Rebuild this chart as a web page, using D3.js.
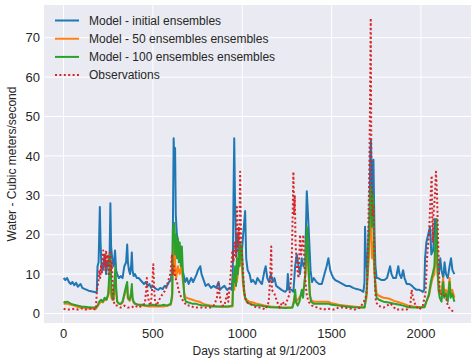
<!DOCTYPE html>
<html>
<head>
<meta charset="utf-8">
<style>
  body { margin: 0; background: white; }
  text { font-family: "Liberation Sans", Arial, sans-serif; fill: #262626; }
  .grid line { stroke: white; stroke-width: 1px; }
  .series { fill: none; stroke-linejoin: round; }
</style>
</head>
<body>
<script src="https://cdn.jsdelivr.net/npm/d3@7"></script>
<script>
// [day, cubic meters/second]
var modelInitial = [[0,9],[10,8.5],[20,9],[30,8],[40,7.5],[50,8],[60,7.2],[70,7.8],[80,6.8],[95,7.5],[105,6.5],[120,6.2],[140,5.8],[160,5.6],[180,5.4],[186,5.5],[190,12],[196,13],[203,27],[207,18],[212,12],[220,11],[230,15],[238,10],[245,13],[252,12],[258,16],[262,28],[266,17],[272,14],[280,12],[288,16],[294,11],[300,10],[310,9],[320,9.5],[330,9],[340,12],[350,13],[356,17.5],[360,13],[366,11],[372,10],[378,12],[382,15.5],[386,11],[392,9.5],[400,10],[410,9],[420,9],[430,8.5],[440,8],[450,7.5],[460,8],[470,7],[480,7.5],[490,6.5],[500,7],[510,6.5],[520,6.2],[530,6],[541,6.5],[555,6.2],[565,7],[578,7],[590,8],[600,8.5],[610,12],[616,44.5],[620,38],[624,42],[628,25],[634,20],[643,18],[650,17],[656,14],[665,11],[671,10],[680,8],[690,9],[700,7.5],[714,9],[725,8],[735,9],[745,10],[752,11],[765,12],[772,10],[780,9],[795,7],[810,7.5],[825,6.5],[840,7],[855,6.5],[867,8],[875,6],[885,6.5],[900,7],[915,6],[930,6.5],[940,6],[947,10],[951,30],[955,44.5],[959,30],[966,15],[975,20],[985,15],[995,14],[1005,20],[1016,26],[1022,14],[1030,11],[1041,10],[1050,8],[1060,8.5],[1075,7.5],[1085,9],[1100,8],[1110,7.5],[1125,11],[1131,12],[1140,9],[1150,8],[1160,10],[1170,8],[1180,9],[1190,7],[1205,6.5],[1220,6],[1240,5.5],[1250,6],[1255,10],[1262,6],[1275,6],[1286,5.5],[1296,12],[1305,15],[1315,12],[1323,10],[1333,14],[1342,12],[1352,13],[1361,31],[1368,25],[1375,18],[1382,11],[1390,8],[1400,9],[1415,8],[1430,7.5],[1445,7.5],[1460,10],[1472,12],[1482,14],[1492,11],[1500,10],[1510,9],[1520,8.5],[1540,8],[1560,7.5],[1580,7],[1600,7],[1620,6.5],[1640,6.2],[1660,6],[1678,5.5],[1684,8],[1687,22],[1692,14],[1700,10],[1706,20],[1712,24],[1716,40],[1720,44],[1726,30],[1734,39],[1740,20],[1745,12],[1752,9],[1760,9],[1780,8.5],[1795,8.5],[1810,9],[1827,12],[1835,10],[1845,9],[1860,9],[1873,12],[1880,10],[1890,9],[1900,11],[1908,9],[1920,7.5],[1935,7.5],[1950,7],[1960,6.5],[1975,6],[1990,6],[2000,5.8],[2010,5.5],[2018,6],[2023,14],[2030,18],[2040,20],[2051,22],[2058,15],[2068,16],[2078,24],[2083,21],[2090,13],[2100,10],[2108,14],[2115,11],[2125,9],[2132,13],[2140,10],[2150,9],[2160,12],[2168,14],[2176,11],[2187,10]];

var model50 = [[0,2.5],[20,2.5],[40,2.2],[60,2],[80,1.6],[100,1.5],[120,1.4],[140,1.3],[160,1.3],[180,1.2],[190,1.8],[200,2.5],[210,3],[220,2.8],[230,3.5],[240,3.5],[250,4.5],[256,8],[260,6],[264,5],[268,4],[272,3.5],[280,3.5],[285,7],[290,10],[295,5],[300,3],[310,2.5],[320,2.3],[330,2.8],[340,4.5],[350,6],[356,7],[360,3.8],[370,3.2],[382,6.5],[386,3.5],[392,2.8],[400,2.4],[440,2],[480,1.8],[520,1.8],[560,1.8],[600,2.2],[608,4],[612,16],[616,10],[620,18],[625,12],[630,9],[640,12],[650,10],[660,12],[668,8],[671,7],[676,5],[685,4],[700,3.8],[720,3.5],[740,3.2],[760,3],[780,2.5],[800,2.2],[830,2],[860,1.8],[890,1.7],[920,1.7],[945,1.8],[950,8],[955,6],[960,10],[970,8],[980,12],[988,14],[998,12],[1003,8],[1010,5],[1016,4],[1025,3.5],[1040,3],[1060,2.8],[1080,2.5],[1100,2.3],[1130,2],[1160,1.8],[1200,1.6],[1240,1.5],[1280,1.5],[1296,5],[1300,2.8],[1333,5],[1348,7],[1361,18],[1366,15],[1371,10],[1378,4.5],[1385,3.5],[1400,3],[1440,3],[1480,3],[1500,2.6],[1540,2.2],[1580,2],[1620,1.8],[1660,1.6],[1684,1.6],[1695,4],[1705,12],[1710,15],[1716,25],[1720,28],[1726,14],[1732,18],[1740,10],[1745,8],[1752,5],[1765,4.5],[1790,4],[1820,3.8],[1850,3.2],[1880,2.8],[1900,2.5],[1930,2],[1960,1.8],[2000,1.6],[2020,1.8],[2030,3],[2045,4.5],[2055,7],[2065,9],[2075,10],[2080,14],[2088,20],[2092,10],[2098,8],[2105,5],[2115,6],[2124,9],[2130,5],[2140,6],[2150,4],[2160,9],[2166,5],[2175,6],[2187,4]];

var model100 = [[0,3],[10,2.8],[20,3],[40,2.5],[60,2.2],[80,2],[100,1.8],[120,1.7],[140,1.6],[160,1.5],[180,1.5],[190,2],[200,3],[210,3.5],[220,3],[230,4],[240,3.5],[250,5],[256,10],[260,15],[264,12],[268,6],[272,4],[278,3.5],[285,8],[290,12],[295,6],[300,3],[310,2.5],[320,2.5],[330,3],[340,5],[350,7],[356,8],[360,4],[370,3.5],[378,5],[382,7.5],[386,4],[392,3],[400,2.5],[420,2.2],[440,2.2],[460,2],[480,2],[500,2.2],[520,2],[541,2],[560,2.2],[580,2],[600,2.5],[608,5],[612,22],[616,18],[620,23],[625,15],[630,20],[635,14],[640,19],[645,13],[650,18],[656,12],[662,17],[668,10],[671,8],[676,4],[685,3],[700,2.8],[720,2.5],[740,2.5],[760,2.2],[780,2],[800,2],[830,1.8],[860,1.8],[890,1.8],[920,1.8],[945,2],[950,10],[955,8],[960,12],[965,7],[970,14],[975,10],[980,16],[985,12],[988,18],[993,14],[998,17],[1003,10],[1010,6],[1016,4],[1025,3],[1040,2.5],[1060,2.2],[1080,2],[1100,2],[1130,1.8],[1160,1.6],[1200,1.5],[1240,1.4],[1280,1.5],[1290,3],[1296,6],[1300,3],[1310,2],[1320,3],[1333,6],[1340,4],[1348,8],[1354,10],[1361,22],[1366,20],[1371,12],[1378,5],[1385,3],[1400,2.5],[1440,2.5],[1480,2.5],[1500,2.2],[1540,2],[1580,1.8],[1620,1.6],[1660,1.5],[1684,1.5],[1695,5],[1705,15],[1710,20],[1716,30],[1720,32],[1726,22],[1732,30],[1740,12],[1745,6],[1752,4],[1765,3.5],[1790,3],[1820,2.8],[1850,2.5],[1880,2.2],[1900,2],[1930,1.6],[1960,1.5],[2000,1.5],[2020,1.6],[2030,3],[2045,5],[2055,8],[2065,10],[2075,12],[2080,18],[2088,24],[2092,14],[2098,6],[2105,4],[2115,3],[2124,8],[2130,4],[2140,5],[2150,3],[2160,8],[2166,4],[2175,5],[2187,3]];

var observations = [[0,1.2],[20,1],[40,1],[60,1.2],[80,1],[100,1.3],[120,1],[140,1.2],[160,1.3],[180,1],[187,6],[195,8],[200,11],[205,9],[209,12],[214,10],[218,14],[222,16],[226,12],[230,15],[234,11],[238,16],[242,12],[248,15],[252,10],[258,14],[262,16],[266,11],[270,13],[274,8],[280,3],[290,2],[300,2],[320,1.5],[340,2],[360,1.5],[380,1.5],[400,2],[420,1.5],[440,2],[455,2.5],[462,6],[466,9],[470,5],[478,3],[484,2],[490,3],[495,6],[502,12.5],[507,6],[512,3],[520,2],[530,3],[541,4],[555,5],[570,6],[578,7],[590,9],[597,10],[602,12],[606,15],[612,10],[618,12],[625,9],[635,8],[643,6],[650,5],[660,4],[671,3],[690,2],[710,2],[730,1.5],[760,1.5],[790,1.5],[820,1.5],[840,2],[850,3],[858,4],[867,8],[872,5],[880,3],[890,2],[900,2],[910,4],[916,5],[922,3],[935,10],[945,16],[951,13],[958,18],[965,14],[970,27],[975,16],[980,22],[984,18],[988,36],[993,20],[998,15],[1003,12],[1010,6],[1020,3],[1040,2.5],[1060,2],[1080,1.5],[1100,1.5],[1120,1.2],[1128,1],[1140,2],[1148,3],[1155,8],[1162,17],[1166,6],[1180,5],[1195,3],[1210,1.5],[1225,3],[1240,2],[1265,5],[1275,10],[1282,25],[1286,36],[1290,25],[1294,30],[1298,18],[1305,12],[1315,9],[1323,20],[1330,15],[1342,20],[1350,10],[1360,5],[1370,3],[1390,2],[1420,1.5],[1450,1],[1480,1.2],[1510,1],[1540,1.5],[1570,1.5],[1600,1.3],[1630,1],[1660,1.5],[1680,3],[1690,4],[1697,6],[1705,20],[1712,40],[1719,75],[1722,40],[1728,25],[1735,27],[1742,8],[1748,3],[1760,2],[1790,1.5],[1830,2.5],[1860,1],[1900,1],[1920,1],[1940,2],[1948,6],[1955,4],[1970,2],[1990,1],[2010,2],[2025,5],[2035,15],[2045,20],[2052,28],[2060,35],[2065,18],[2070,25],[2078,30],[2084,36],[2090,30],[2095,20],[2100,12],[2105,5],[2125,5],[2140,4],[2150,2],[2165,1],[2180,0.5]];

var xTicks = [0, 500, 1000, 1500, 2000];
var yTicks = [0, 10, 20, 30, 40, 50, 60, 70];
var seriesNames = ["Model - initial ensembles", "Model - 50 ensembles ensembles", "Model - 100 ensembles ensembles", "Observations"];
var seriesColors = ["#1f77b4", "#ff7f0e", "#2ca02c", "#d62728"];

var width = 471, height = 362;
var plotLeft = 44, plotRight = 474.5, plotTop = 5, plotBottom = 323;

var svg = d3.select("body").append("svg")
    .attr("width", width)
    .attr("height", height);

var x = d3.scaleLinear().domain([-109.5, 2299.5]).range([plotLeft, plotRight]);
var y = d3.scaleLinear().domain([-2.41, 78.3]).range([plotBottom, plotTop]);

svg.append("rect")
    .attr("x", plotLeft).attr("y", plotTop)
    .attr("width", plotRight - plotLeft).attr("height", plotBottom - plotTop)
    .attr("fill", "#eaeaf2");

// grid
var grid = svg.append("g").attr("class", "grid");
grid.selectAll(".gx").data(xTicks).join("line")
    .attr("x1", d => x(d)).attr("x2", d => x(d))
    .attr("y1", plotTop).attr("y2", plotBottom);
grid.selectAll(".gy").data(yTicks).join("line")
    .attr("x1", plotLeft).attr("x2", plotRight)
    .attr("y1", d => y(d)).attr("y2", d => y(d));

// tick labels
svg.append("g").selectAll("text").data(xTicks).join("text")
    .attr("x", d => x(d)).attr("y", 337.5)
    .attr("text-anchor", "middle")
    .attr("font-size", 13)
    .text(d => d);
svg.append("g").selectAll("text").data(yTicks).join("text")
    .attr("x", 40).attr("y", d => y(d) + 4.6)
    .attr("text-anchor", "end")
    .attr("font-size", 13)
    .text(d => d);

// axis labels
svg.append("text")
    .attr("x", (plotLeft + plotRight) / 2).attr("y", 355)
    .attr("text-anchor", "middle")
    .attr("font-size", 12)
    .text("Days starting at 9/1/2003");
svg.append("text")
    .attr("transform", "translate(16," + ((plotTop + plotBottom) / 2) + ") rotate(-90)")
    .attr("text-anchor", "middle")
    .attr("font-size", 12)
    .text("Water - Cubic meters/second");

var line = d3.line().x(d => x(d[0])).y(d => y(d[1]));

var plot = svg.append("g");
[modelInitial, model50, model100, observations].forEach(function(s, i) {
    plot.append("path")
        .attr("class", "series")
        .attr("d", line(s))
        .attr("stroke", seriesColors[i])
        .attr("stroke-width", 2)
        .attr("stroke-dasharray", i == 3 ? "2,2.4" : null);
});

// legend
var legend = svg.append("g");
seriesNames.forEach(function(name, i) {
    var ly = 20.5 + i * 18.2;
    legend.append("line")
        .attr("x1", 55).attr("x2", 79)
        .attr("y1", ly).attr("y2", ly)
        .attr("stroke", seriesColors[i])
        .attr("stroke-width", 2)
        .attr("stroke-dasharray", i == 3 ? "2,2.4" : null);
    legend.append("text")
        .attr("x", 89).attr("y", ly + 4.3)
        .attr("font-size", 12)
        .text(name);
});
</script>
</body>
</html>
